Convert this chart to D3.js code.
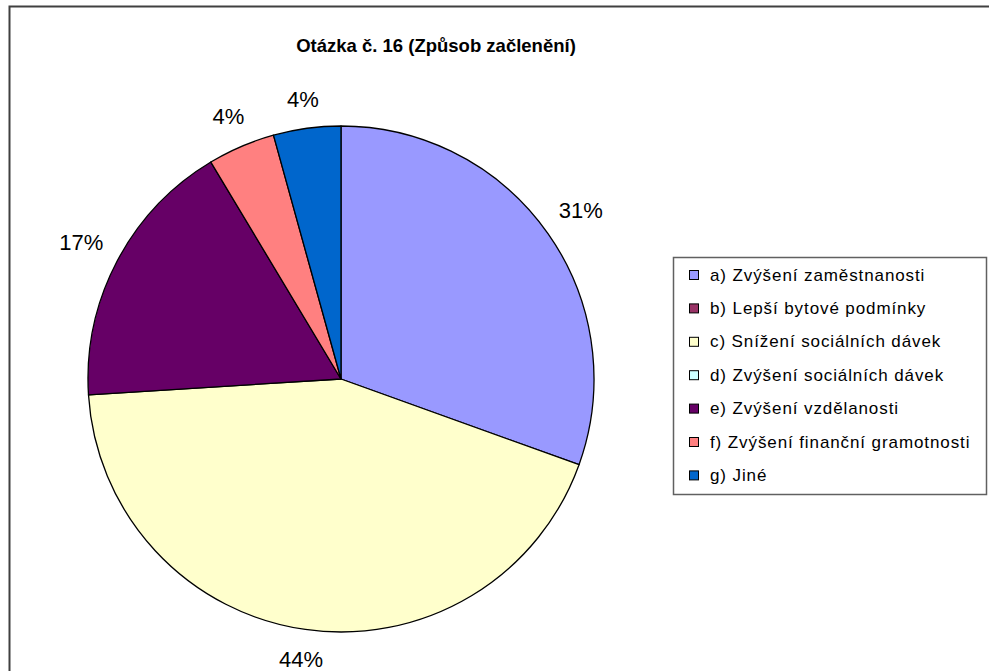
<!DOCTYPE html>
<html>
<head>
<meta charset="utf-8">
<script src="https://cdn.jsdelivr.net/npm/d3@7"></script>
<style>
  body { margin: 0; background: #fff; }
  svg { display: block; font-family: Arial, "Liberation Sans", sans-serif; }
</style>
</head>
<body>
<svg id="chart" width="989" height="671"></svg>
<script>
const title = "Otázka č. 16 (Způsob začlenění)";
const categories = [
  "a) Zvýšení zaměstnanosti",
  "b) Lepší bytové podmínky",
  "c) Snížení sociálních dávek",
  "d) Zvýšení sociálních dávek",
  "e) Zvýšení vzdělanosti",
  "f) Zvýšení finanční gramotnosti",
  "g) Jiné"
];
// percent shares
const values = [30.5, 0, 43.5, 0, 17.4, 4.3, 4.3];
const colors = ["#9999FF", "#993366", "#FFFFCC", "#CCFFFF", "#660066", "#FF8080", "#0066CC"];

const svg = d3.select("#chart");
const cx = 341, cy = 379, radius = 253;
const labelGap = 15;

// chart frame (runs off the right and bottom edge)
svg.append("rect")
  .attr("x", 9.5).attr("y", 6.5)
  .attr("width", 1000).attr("height", 700)
  .style("fill", "none")
  .style("stroke", "#404040")
  .style("stroke-width", 2);

svg.append("text")
  .attr("x", 436).attr("y", 52)
  .attr("text-anchor", "middle")
  .style("font-size", "18.5px")
  .style("font-weight", "bold")
  .text(title);

const data = categories.map((c, i) => ({ name: c, value: values[i], color: colors[i] }));

const pie = d3.pie().sort(null).value(d => d.value);
const arc = d3.arc().innerRadius(0).outerRadius(radius);
const arcs = pie(data);

const g = svg.append("g").attr("transform", `translate(${cx},${cy})`);

g.selectAll("path")
  .data(arcs.filter(d => d.data.value > 0))
  .join("path")
  .attr("d", arc)
  .style("fill", d => d.data.color)
  .style("stroke", "#000")
  .style("stroke-width", 1.3)
  .style("stroke-linejoin", "round");

// percentage labels outside the pie, pushed out by their own box size
const labels = g.selectAll("text.pct")
  .data(arcs.filter(d => d.data.value > 0))
  .join("text")
  .attr("class", "pct")
  .attr("text-anchor", "middle")
  .attr("dominant-baseline", "central")
  .style("font-size", "22px")
  .style("fill", "#000")
  .text(d => Math.round(d.data.value) + "%");

labels.each(function (d) {
  const box = this.getBBox();
  const a = (d.startAngle + d.endAngle) / 2;
  const s = Math.sin(a), c = -Math.cos(a);
  const r = radius + labelGap + Math.abs(s) * box.width / 2 + Math.abs(c) * box.height / 2;
  d3.select(this).attr("x", r * s).attr("y", r * c);
});

// legend
const legendX = 673, legendY = 257, legendW = 313, legendH = 237;
const rowH = 33.4;
const legend = svg.append("g");

legend.append("rect")
  .attr("x", legendX + 0.5).attr("y", legendY + 0.5)
  .attr("width", legendW).attr("height", legendH)
  .style("fill", "#fff")
  .style("stroke", "#606060")
  .style("stroke-width", 1.5);

const rows = legend.selectAll("g.row")
  .data(data)
  .join("g")
  .attr("class", "row")
  .attr("transform", (d, i) => `translate(${legendX + 16},${legendY + 18 + i * rowH})`);

rows.append("rect")
  .attr("x", 0.5).attr("y", -4.5)
  .attr("width", 9).attr("height", 9)
  .style("fill", d => d.color)
  .style("stroke", "#000")
  .style("stroke-width", 1);

rows.append("text")
  .attr("x", 21).attr("y", 0)
  .attr("dominant-baseline", "central")
  .style("font-size", "17px")
  .style("letter-spacing", "0.9px")
  .text(d => d.name);
</script>
</body>
</html>
